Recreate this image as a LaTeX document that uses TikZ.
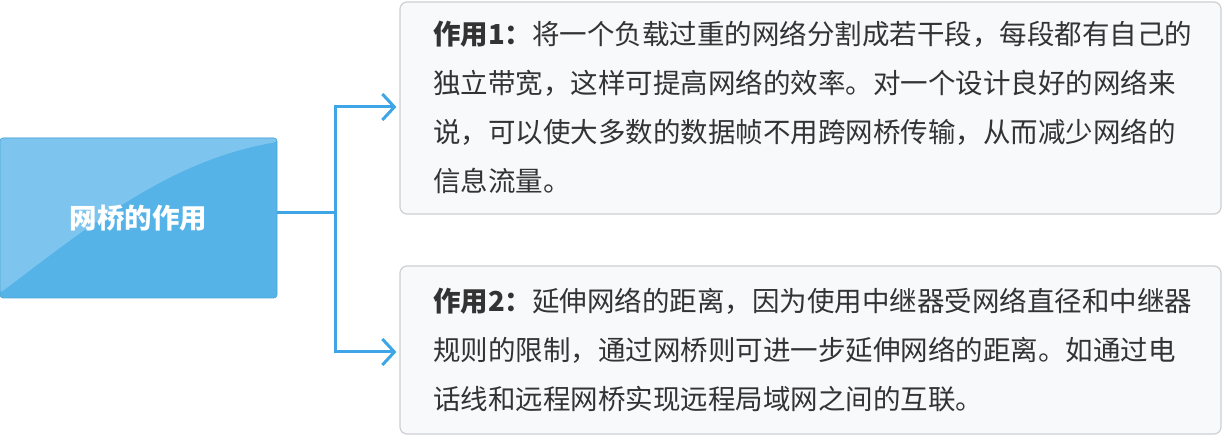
\documentclass[tikz,border=0pt]{standalone}
\usepackage{fontspec}
\newfontfamily\cjk{Noto Sans CJK SC}
\usetikzlibrary{arrows.meta,calc}
\definecolor{rootblue}{HTML}{55B3E8}
\definecolor{rootlight}{HTML}{7DC5EE}
\definecolor{linkblue}{HTML}{3EA6E6}
\definecolor{boxfill}{HTML}{F8F9FB}
\definecolor{boxline}{HTML}{CDCFD2}
\definecolor{bodyink}{HTML}{333333}
\tikzset{
  rootbox/.style={draw=rootblue!92!black, line width=0.6pt, rounded corners=3pt, fill=rootblue,
    minimum width=277pt, minimum height=160pt, inner sep=0pt,
    text=white, font=\cjk\bfseries\fontsize{27.5}{30}\selectfont,
    path picture={\fill[rootlight]
      ($(path picture bounding box.south west)+(0,-5)$)
      .. controls ($(path picture bounding box.south west)+(90,-73)$)
      and ($(path picture bounding box.south west)+(170,-138)$)
      .. ($(path picture bounding box.north east)+(0,4)$)
      -- (path picture bounding box.north east)
      -- (path picture bounding box.north west) -- cycle;}},
  infobox/.style={draw=boxline, line width=1.2pt, rounded corners=7pt, fill=boxfill, inner sep=0pt},
  bodytext/.style={inner sep=0pt, align=left, text=bodyink, font=\cjk\fontsize{27.5}{49}\selectfont},
  link/.style={draw=linkblue, line width=3pt},
  linkarrow/.style={link, -{Straight Barb[length=12pt,width=26pt]}, shorten >=3pt}
}
\begin{document}
\begin{tikzpicture}[x=1pt,y=-1pt]
\useasboundingbox[fill=white] (0,0) rectangle (1224,438);
\node[rootbox] (root) at (138.5,218) {网桥的作用};
\node[infobox, minimum width=821pt, minimum height=212pt] (b1) at (810.5,108) {};
\node[infobox, minimum width=821pt, minimum height=168pt] (b2) at (810.5,350) {};
\node[bodytext, anchor=west] (t1) at (433,107) {\textbf{作用1：}将一个负载过重的网络分割成若干段，每段都有自己的\\独立带宽，这样可提高网络的效率。对一个设计良好的网络来\\说，可以使大多数的数据帧不用跨网桥传输，从而减少网络的\\信息流量。};
\node[bodytext, anchor=west] (t2) at (433,350) {\textbf{作用2：}延伸网络的距离，因为使用中继器受网络直径和中继器\\规则的限制，通过网桥则可进一步延伸网络的距离。如通过电\\话线和远程网桥实现远程局域网之间的互联。};
\coordinate (j) at (335,213);
\draw[link] (root.east |- j) -- (j);
\draw[linkarrow] (j) |- (b1.west |- 0,107);
\draw[linkarrow] (j) |- (b2.west |- 0,352);
\end{tikzpicture}
\end{document}
